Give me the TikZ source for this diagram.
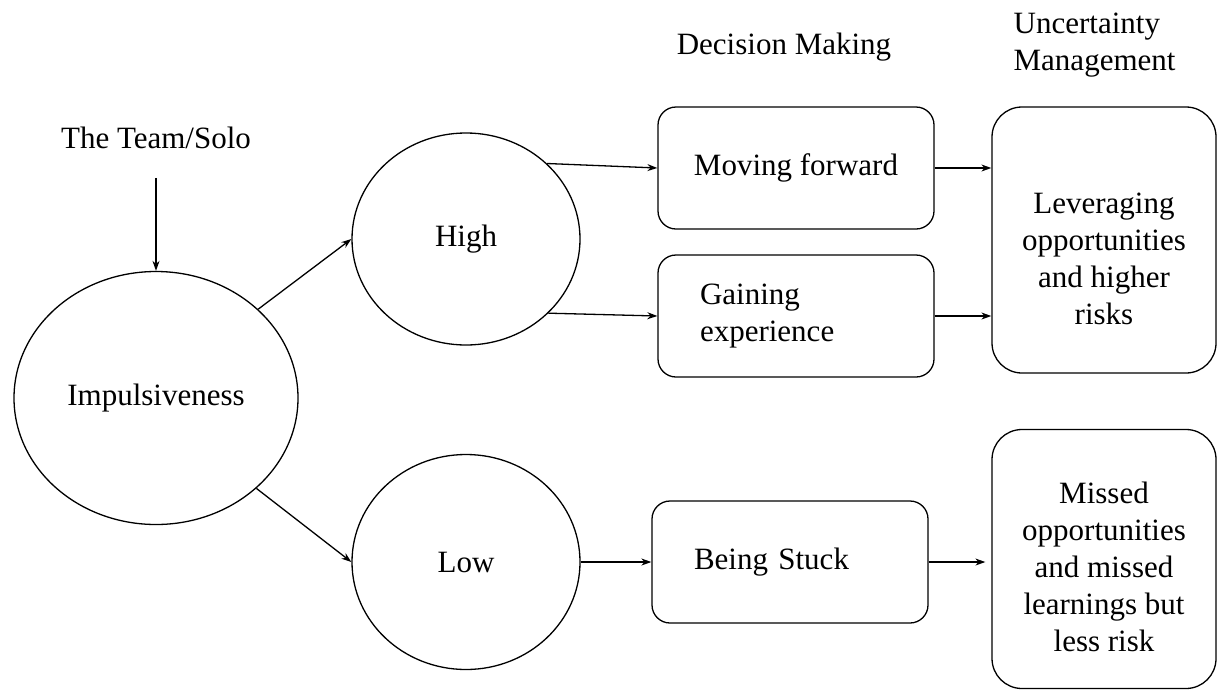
\documentclass[tikz,border=0pt]{standalone}
\usepackage{fontspec}
\setmainfont{Liberation Serif}
\usetikzlibrary{shapes.geometric,arrows.meta,positioning}

\begin{document}
\begin{tikzpicture}[->,>={Stealth[length=10pt,width=7pt]},line width=1.3pt,on grid,
    font=\fontsize{31pt}{37pt}\selectfont,
    level/.style={draw,ellipse,inner sep=0pt},
    choice/.style={draw,rounded corners=18pt,minimum width=276pt,minimum height=122pt,inner sep=0pt},
    outcome/.style={draw,rounded corners=30pt,minimum width=224pt,inner sep=0pt,align=center}]
    %% frame
    \useasboundingbox (0,0) rectangle (1217pt,-691pt);
    %% node
    \node (imp) [level,minimum width=284pt,minimum height=253pt] at (156pt,-398pt) {Impulsiveness};
    \node (team) [above=260pt of imp] {The Team/Solo};
    \node (high) [level,minimum width=228pt,minimum height=212pt,above right=159pt and 310pt of imp] {High};
    \node (low) [level,minimum width=228pt,minimum height=215pt,below right=164pt and 310pt of imp] {Low};
    \node (moving) [choice,above right=71pt and 330pt of high] {Moving forward};
    \node (gaining) [choice,text width=192pt,align=left,below right=77pt and 330pt of high]
      {Gaining\\experience};
    \node (stuck) [choice,text width=192pt,align=left,right=324pt of low] {Being Stuck};
    \node (lever) [outcome,minimum height=266pt,below right=72pt and 308pt of moving]
      {\rule{0pt}{59pt}Leveraging\\opportunities\\and higher\\risks}; % text sits low
    \node (missed) [outcome,minimum height=259pt,above right=3pt and 314pt of stuck]
      {\rule{0pt}{37pt}Missed\\opportunities\\and missed\\learnings but\\less risk};
    \node (decision) [above left=121pt and 12pt of moving] {Decision Making};
    \node (uncert) [anchor=west,align=left,inner sep=0pt] at (1013pt,-45pt) {Uncertainty\\Management};
    %% path
    \draw [shorten <=25pt] (team.south) -- (imp.north);
    \draw (imp.41) -- (high.west);
    \draw (imp.-42) -- (low.west);
    \draw (high.43) -- (moving.west);
    \draw (high.-42) -- (gaining.west);
    \draw (moving.east) -- (moving.east -| lever.west);
    \draw (gaining.east) -- (gaining.east -| lever.west);
    \draw (low.east) -- (stuck.west);
    \draw [shorten >=6pt] (stuck.east) -- (stuck.east -| missed.west);
\end{tikzpicture}
\end{document}
